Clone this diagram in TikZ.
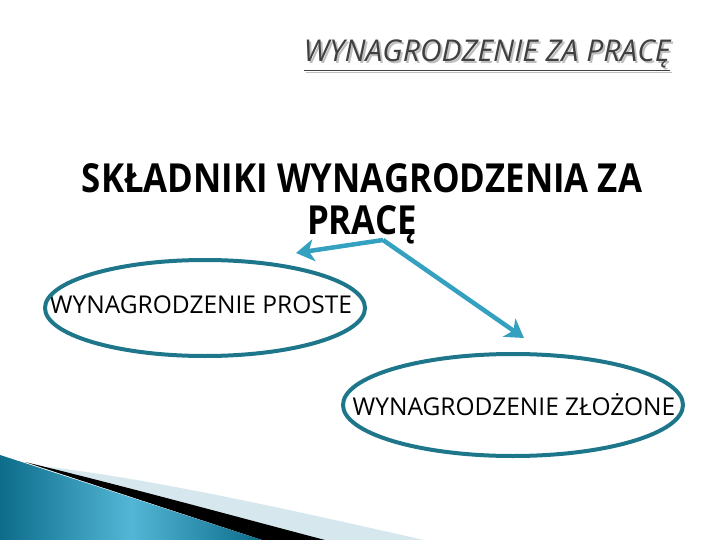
\documentclass[tikz,border=0pt]{standalone}
\usepackage{fontspec}
\setmainfont{Open Sans}
\newfontfamily\headfont[FakeStretch=0.87]{Open Sans}
\usepackage{tikz}
\usetikzlibrary{arrows.meta}

\definecolor{arrowblue}{RGB}{53,161,192}
\definecolor{ringteal}{RGB}{30,118,138}
\definecolor{tealdark}{RGB}{12,108,138}
\definecolor{teallight}{RGB}{84,182,214}
\definecolor{paleblue}{RGB}{214,232,238}
\definecolor{titlegray}{RGB}{64,64,64}
\definecolor{shadowgray}{RGB}{190,190,190}

\tikzset{
  ringtext/.style={font=\fontsize{24.5}{28}\selectfont},
  ring/.style={draw=ringteal, line width=4pt},
  pointer/.style={draw=arrowblue, line width=4.5pt, -{Stealth[length=18pt,width=22pt,inset=5pt]}},
  titletext/.style={anchor=base, font=\fontsize{30}{34}\selectfont\itshape}
}

\begin{document}
\begin{tikzpicture}[x=1pt,y=-1pt]
                \tikzstyle{every node}+=[inner sep=0pt]
                \useasboundingbox (0,0) rectangle (720,540);
                % corner decoration
                \fill [paleblue] (40,466) .. controls (150,478) and (300,512) .. (424,540) -- (325,540) -- cycle;
                \fill [black] (25,462) .. controls (120,485) and (230,515) .. (325,540) -- (262,540) -- cycle;
                \shade [left color=tealdark, right color=tealdark, middle color=teallight]
                      (0,455) -- (262,540) -- (0,540) -- cycle;
                % title
                \node [titletext, text=shadowgray] at (489,64) {\underline{WYNAGRODZENIE ZA PRACĘ}};
                \node (title) [titletext, text=titlegray] at (487,62) {\underline{WYNAGRODZENIE ZA PRACĘ}};
                \node (head) [anchor=base, align=center, font=\fontsize{40}{42}\headfont\bfseries] at (362,234) {SKŁADNIKI WYNAGRODZENIA ZA\\PRACĘ};
                % ellipses
                \node (prost) [ringtext] at (201,305) {WYNAGRODZENIE PROSTE};
                \node (zloz) [ringtext] at (514,405) {WYNAGRODZENIE ZŁOŻONE};
                \draw [ring] (205,308) ellipse [x radius=160, y radius=48];
                \draw [ring] (513,405) ellipse [x radius=170, y radius=51];
                % arrows
                \coordinate (fork) at (383,240);
                \coordinate (tipL) at (296,253);
                \coordinate (tipR) at (524,338);
                \draw [pointer] (fork) -- (tipL);
                \draw [pointer] (fork) -- (tipR);
                \end{tikzpicture}
\end{document}
